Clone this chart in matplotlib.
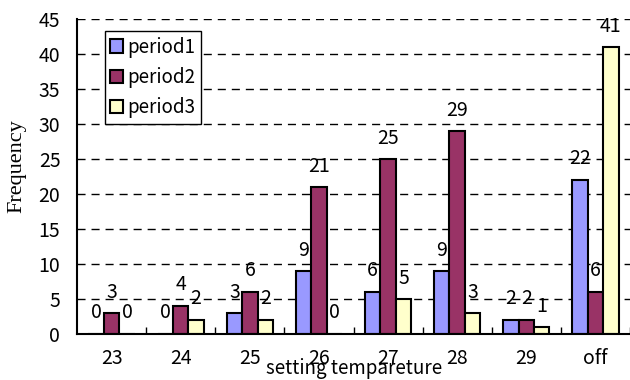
import matplotlib
matplotlib.use("Agg")
import matplotlib.pyplot as plt
import numpy as np

categories = ["23", "24", "25", "26", "27", "28", "29", "off"]
period1 = [0, 0, 3, 9, 6, 9, 2, 22]
period2 = [3, 4, 6, 21, 25, 29, 2, 6]
period3 = [0, 2, 2, 0, 5, 3, 1, 41]
series_names = ["period1", "period2", "period3"]
colors = ["#9999FF", "#993366", "#FFFFCC"]

plt.rcParams["font.family"] = ["Noto Sans CJK JP", "DejaVu Sans"]

fig = plt.figure(figsize=(6.3, 3.8), dpi=100)
W, H = 630, 380
ax = fig.add_axes([77 / W, 46 / H, 553 / W, 315 / H])

FS = 14

x = np.arange(len(categories))
bw = 0.223
for i, (vals, name, col) in enumerate(zip([period1, period2, period3], series_names, colors)):
    pos = x + (i - 1) * bw
    ax.bar(pos, vals, width=bw, color=col, edgecolor="black", linewidth=1.5,
           label=name, zorder=3)
    for px_, v in zip(pos, vals):
        ax.annotate(str(v), (px_, v), xytext=(0, 21), textcoords="offset pixels",
                    ha="center", va="center", fontsize=FS, zorder=4)

ax.set_xlim(-0.5, 7.5)
ax.set_ylim(0, 45)
ax.set_yticks(np.arange(0, 46, 5))
ax.set_xticks(x)
ax.set_xticklabels(categories)
ax.set_xticks(np.arange(0.5, 7.6, 1), minor=True)
ax.tick_params(axis="x", which="major", length=0, pad=10, labelsize=FS)
ax.tick_params(axis="x", which="minor", direction="in", length=5, width=1)
ax.tick_params(axis="y", length=0, pad=12, labelsize=FS)

for yv in np.arange(5, 46, 5):
    ax.axhline(yv, color="black", linewidth=1, linestyle=(0, (5.8, 4.3)), zorder=1)

for s in ["top", "right"]:
    ax.spines[s].set_visible(False)
for s in ["left", "bottom"]:
    ax.spines[s].set_linewidth(1.5)
    ax.spines[s].set_zorder(5)

leg = ax.legend(loc="upper left", bbox_to_anchor=(0.05, 0.962), borderaxespad=0,
                fancybox=False, shadow=False, framealpha=1, edgecolor="black",
                fontsize=13.5, handlelength=0.7, handleheight=0.7,
                handletextpad=0.2, labelspacing=0.5, borderpad=0.3)
leg.get_frame().set_linewidth(1)
leg.set_zorder(6)

fig.text(354 / W, 1 / H, "setting tempareture", ha="center", va="bottom",
         fontsize=13.5)
fig.text(17 / W, 1 - 166 / H, "Frequency", ha="center", va="center",
         rotation=90, fontsize=16, family=["Liberation Serif"])

fig.savefig("out.png", dpi=100)
